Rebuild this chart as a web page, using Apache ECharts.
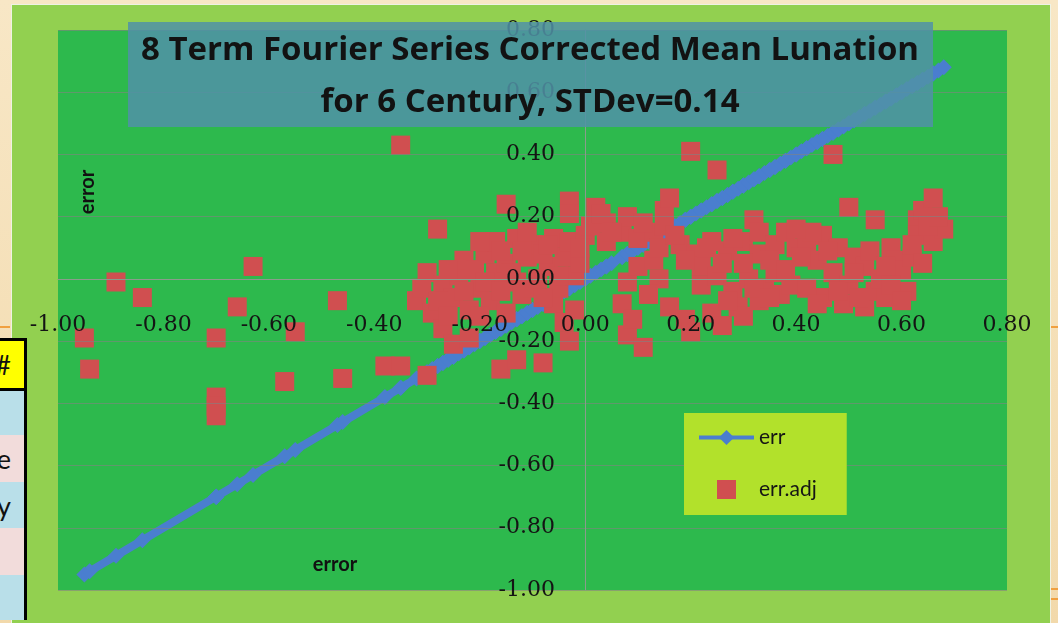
<!DOCTYPE html>
<html>
<head>
<meta charset="utf-8">
<script src="https://cdn.jsdelivr.net/npm/echarts@6/dist/echarts.min.js"></script>
<style>
  html, body { margin: 0; padding: 0; width: 1058px; height: 623px; overflow: hidden; }
  body { position: relative; background: linear-gradient(180deg, #f8e7c6, #f2d9ab); font-family: Lato, sans-serif; }
  #chart { position: absolute; left: 12px; top: 5px; width: 1038px; height: 618px; box-shadow: 0 0 0 1px #eef2e4; }
  .deco { position: absolute; background: #f0a040; height: 2px; }
  #tbl { position: absolute; left: 0; top: 338px; width: 24px; border: 3px solid #000; border-left: 0; border-bottom: 0; z-index: 5; }
  #tbl div { box-sizing: border-box; padding-right: 13px; font-size: 27px; line-height: 1; color: #111; overflow: hidden; display: flex; align-items: center; justify-content: flex-end; }
</style>
</head>
<body>
<div class="deco" style="left:0; top:326px; width:10px;"></div>
<div class="deco" style="left:1050px; top:326px; width:8px;"></div>
<div class="deco" style="left:1050px; top:588px; width:8px;"></div>
<div class="deco" style="left:1050px; top:598px; width:8px;"></div>
<div id="chart"></div>
<div id="tbl">
  <div style="height:50px; background:#ffff00; border-bottom:3px solid #000;">#</div>
  <div style="height:44px; background:#b9dfe9;"></div>
  <div style="height:47px; background:#f2dcdb;">e</div>
  <div style="height:46px; background:#b9dfe9;">y</div>
  <div style="height:47px; background:#f2dcdb;"></div>
  <div style="height:45px; background:#b9dfe9;"></div>
</div>
<script>
// err values (x) and the Fourier-corrected err.adj values (y)
const errX = [
  -0.95, -0.94, -0.89, -0.84, -0.70, -0.70, -0.70, -0.70, -0.66, -0.63,
  -0.57, -0.55, -0.47, -0.46, -0.38, -0.35, -0.35, -0.32, -0.30, -0.30,
  -0.29, -0.28, -0.27, -0.27, -0.25, -0.25, -0.24, -0.23, -0.22, -0.22,
  -0.20, -0.19, -0.18, -0.17, -0.17, -0.16, -0.15, -0.15, -0.15, -0.13,
  -0.13, -0.13, -0.12, -0.11, -0.10, -0.09, -0.08, -0.07, -0.06, -0.06,
  -0.05, -0.04, -0.04, -0.03, -0.03, -0.03, -0.03, -0.02, -0.02, -0.01,
  0.00, 0.01, 0.02, 0.04, 0.04, 0.07, 0.07, 0.08, 0.08, 0.08,
  0.09, 0.10, 0.10, 0.11, 0.13, 0.13, 0.14, 0.15, 0.15, 0.16,
  0.16, 0.18, 0.19, 0.20, 0.20, 0.21, 0.22, 0.22, 0.24, 0.24,
  0.25, 0.25, 0.26, 0.27, 0.28, 0.29, 0.30, 0.30, 0.31, 0.32,
  0.33, 0.33, 0.33, 0.34, 0.36, 0.36, 0.37, 0.38, 0.39, 0.40,
  0.42, 0.44, 0.45, 0.45, 0.47, 0.47, 0.48, 0.49, 0.50, 0.50,
  0.51, 0.53, 0.53, 0.55, 0.55, 0.56, 0.57, 0.58, 0.59, 0.60,
  0.61, 0.62, 0.63, 0.63, 0.64, 0.66, 0.66, 0.68,
  -0.31, -0.28, -0.26, -0.21, -0.19, -0.16, -0.14, -0.12, -0.10, -0.08,
  -0.08, -0.07, -0.05, -0.01, -0.20, -0.26, -0.23, -0.16, -0.11, -0.20,
  0.03, 0.05, 0.11, 0.12, 0.14, 0.17, 0.19, 0.23, 0.26, 0.27,
  0.28, 0.30, 0.32, 0.35, 0.38, 0.41, 0.42, 0.43, 0.46, 0.48,
  0.51, 0.52, 0.54, 0.57, 0.58, 0.60, 0.62, 0.64, 0.65, 0.67,
  0.40, 0.35, 0.44
];
const errAdj = [
  -0.19, -0.29, -0.01, -0.06, -0.19, -0.38, -0.41, -0.44, -0.09, 0.04,
  -0.33, -0.17, -0.07, -0.32, -0.28, -0.28, 0.43, -0.07, 0.02, -0.31,
  -0.11, 0.16, -0.02, -0.16, -0.06, -0.21, 0.01, 0.06, -0.10, -0.19,
  -0.03, 0.08, -0.07, 0.12, 0.02, -0.29, 0.24, 0.05, -0.11, 0.13,
  -0.01, -0.26, -0.05, 0.07, 0.11, 0.00, -0.27, 0.04, 0.13, -0.08,
  -0.03, 0.07, -0.14, 0.25, 0.21, 0.12, -0.20, 0.01, -0.10, 0.05,
  0.14, 0.17, 0.23, 0.18, 0.12, 0.15, -0.08, 0.20, -0.01, -0.18,
  -0.13, 0.13, 0.04, -0.22, 0.15, 0.06, 0.00, 0.22, 0.17, 0.26,
  -0.09, 0.11, -0.13, 0.41, -0.17, 0.08, 0.04, -0.02, 0.12, -0.11,
  0.35, 0.01, -0.15, 0.09, -0.04, -0.09, 0.12, -0.12, 0.00, 0.19,
  0.15, 0.08, -0.07, -0.03, 0.11, 0.02, -0.05, 0.15, -0.02, 0.10,
  0.12, 0.06, 0.14, -0.06, 0.40, 0.02, 0.10, -0.08, 0.23, -0.02,
  0.07, 0.04, -0.09, 0.19, -0.04, 0.00, -0.06, 0.10, 0.06, 0.03,
  -0.04, 0.07, 0.19, 0.14, 0.22, 0.26, 0.12, 0.16,
  -0.03, -0.07, 0.03, 0.03, -0.01, 0.09, 0.02, 0.09, -0.03, 0.08,
  -0.06, 0.11, 0.01, 0.10, -0.12, -0.12, -0.04, -0.04, 0.15, 0.12,
  0.21, 0.15, 0.18, -0.05, 0.10, 0.14, 0.06, 0.10, 0.05, -0.07,
  0.13, 0.05, -0.03, 0.06, 0.03, 0.07, -0.03, 0.15, 0.09, -0.04,
  0.02, -0.06, 0.09, 0.04, -0.02, -0.07, 0.11, 0.05, 0.17, 0.20,
  0.16, -0.06, -0.08
];
const seriesNames = ["err", "err.adj"];
const titleLines = ["8 Term Fourier Series Corrected Mean Lunation", "for 6 Century, STDev=0.14"];
const axisName = "error";

const chart = echarts.init(document.getElementById("chart"));
const fmt = (v) => (Math.abs(v) < 1e-9 ? 0 : v).toFixed(2);

const axisCommon = {
  type: "value",
  z: 5,
  min: -1,
  max: 0.8,
  interval: 0.2,
  axisLine: { onZero: false, lineStyle: { color: "#8a9c8c", width: 1 } },
  axisTick: { show: false },
  axisLabel: {
    formatter: fmt,
    fontFamily: "DejaVu Serif",
    fontSize: 22,
    color: "#141414",
  },
};

chart.setOption({
  animation: false,
  backgroundColor: "#92d050",
  grid: {
    left: 46, top: 25, right: 43, bottom: 33,
    outerBoundsMode: "none",
    containLabel: false,
    show: true, backgroundColor: "#2db94d", borderWidth: 0,
  },
  xAxis: {
    ...axisCommon,
    position: "bottom",
    offset: -311,
    axisLabel: { ...axisCommon.axisLabel, margin: 35 },
    splitLine: { show: false },
  },
  yAxis: {
    ...axisCommon,
    position: "left",
    offset: -527,
    axisLabel: { ...axisCommon.axisLabel, margin: 30 },
    splitLine: { lineStyle: { color: "rgba(130,130,130,0.6)", width: 1 } },
  },
  legend: {
    z: 8,
    orient: "vertical",
    left: 672,
    top: 408,
    backgroundColor: "#b2e12b",
    padding: [14, 30, 15, 13],
    itemGap: 31,
    itemWidth: 55,
    itemHeight: 19,
    symbolKeepAspect: true,
    lineStyle: { width: 4 },
    textStyle: { fontFamily: "Lato", fontSize: 21, color: "#151515" },
    data: [
      { name: seriesNames[0] },
      { name: seriesNames[1], icon: "path://M0,0L10,0L10,10L0,10Z" },
    ],
  },
  graphic: [
    {
      type: "rect", z: 10,
      shape: { x: 116, y: 17, width: 805, height: 105 },
      style: { fill: "rgba(80,146,166,0.86)" },
    },
    ...titleLines.map((t, i) => ({
      type: "text", z: 11,
      x: 518, y: 46 + i * 52,
      style: {
        text: t, font: "bold 33px 'Open Sans'", fill: "#121212",
        textAlign: "center", textVerticalAlign: "middle",
      },
    })),
    {
      type: "text", z: 11, x: 76, y: 187, rotation: Math.PI / 2,
      style: { text: axisName, font: "bold 20px Lato", fill: "#111", textAlign: "center", textVerticalAlign: "middle" },
    },
    {
      type: "text", z: 11, x: 323, y: 560,
      style: { text: axisName, font: "bold 20px Lato", fill: "#111", textAlign: "center", textVerticalAlign: "middle" },
    },
  ],
  series: [
    {
      name: seriesNames[0],
      type: "line",
      z: 2,
      data: errX.map((x) => [x, x]).sort((a, b) => a[0] - b[0]),
      symbol: "diamond",
      symbolSize: 16,
      lineStyle: { width: 8, color: "#4a7ecf" },
      itemStyle: { color: "#4a7ecf" },
    },
    {
      name: seriesNames[1],
      type: "scatter",
      z: 3,
      data: errX.map((x, i) => [x, errAdj[i]]),
      symbol: "rect",
      symbolSize: 19,
      itemStyle: { color: "#d04f50", opacity: 1 },
    },
  ],
});
</script>
</body>
</html>
